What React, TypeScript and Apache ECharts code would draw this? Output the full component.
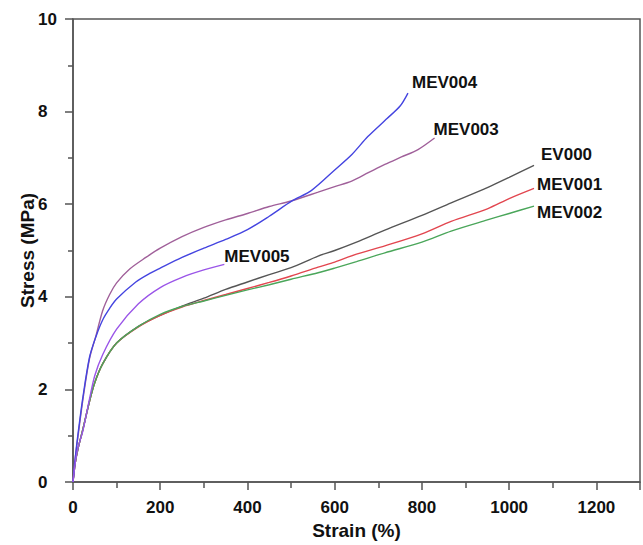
import React, { useEffect, useRef } from "react";
import * as echarts from "echarts";

const xTicks = [0, 200, 400, 600, 800, 1000, 1200];
const yTicks = [0, 2, 4, 6, 8, 10];

const ev000: [number, number][] = [
  [0, 0], [5, 0.4], [11, 0.7], [23, 1.15], [38, 1.75], [50, 2.15], [68, 2.55], [100, 3.0],
  [150, 3.36], [200, 3.6], [250, 3.8], [300, 3.97], [350, 4.16], [400, 4.32], [450, 4.48],
  [500, 4.63], [562, 4.88], [600, 5.0], [650, 5.18], [715, 5.44], [800, 5.76], [867, 6.03],
  [950, 6.36], [1000, 6.58], [1057, 6.84],
];
const mev001: [number, number][] = [
  [0, 0], [5, 0.4], [11, 0.7], [23, 1.15], [38, 1.75], [50, 2.15], [68, 2.55], [100, 3.0],
  [150, 3.35], [200, 3.6], [250, 3.78], [300, 3.92], [350, 4.05], [400, 4.18], [450, 4.31],
  [500, 4.45], [562, 4.64], [600, 4.75], [650, 4.92], [715, 5.1], [800, 5.36], [867, 5.63],
  [950, 5.9], [1000, 6.12], [1057, 6.34],
];
const mev002: [number, number][] = [
  [0, 0], [5, 0.4], [11, 0.7], [23, 1.15], [38, 1.75], [50, 2.15], [68, 2.55], [100, 3.0],
  [150, 3.36], [200, 3.62], [250, 3.79], [300, 3.91], [350, 4.03], [400, 4.15], [450, 4.26],
  [500, 4.38], [562, 4.52], [600, 4.62], [650, 4.76], [715, 4.95], [800, 5.18], [867, 5.42],
  [950, 5.66], [1000, 5.8], [1057, 5.96],
];
const mev003: [number, number][] = [
  [0, 0], [5, 0.5], [11, 0.95], [23, 1.8], [38, 2.67], [53, 3.17], [68, 3.7], [84, 4.05],
  [100, 4.3], [130, 4.6], [167, 4.85], [200, 5.05], [250, 5.3], [300, 5.5], [350, 5.66],
  [400, 5.8], [450, 5.95], [500, 6.07], [562, 6.26], [600, 6.38], [639, 6.5], [677, 6.68],
  [715, 6.86], [753, 7.02], [791, 7.18], [829, 7.43],
];
const mev004: [number, number][] = [
  [0, 0], [5, 0.5], [11, 1.0], [23, 1.85], [38, 2.7], [53, 3.15], [68, 3.5], [84, 3.75],
  [100, 3.95], [144, 4.32], [175, 4.5], [200, 4.62], [250, 4.85], [300, 5.05], [350, 5.24],
  [400, 5.45], [450, 5.74], [502, 6.07], [547, 6.3], [600, 6.74], [640, 7.08], [676, 7.46],
  [720, 7.85], [750, 8.12], [768, 8.4],
];
const mev005: [number, number][] = [
  [0, 0], [5, 0.4], [11, 0.72], [23, 1.12], [38, 1.8], [50, 2.3], [68, 2.75], [100, 3.3],
  [150, 3.85], [200, 4.2], [250, 4.42], [300, 4.58], [347, 4.7],
];

const seriesDefs = [
  { name: "EV000", data: ev000, color: "#555555", offset: [7, -11] },
  { name: "MEV001", data: mev001, color: "#e2464f", offset: [3, -4] },
  { name: "MEV002", data: mev002, color: "#4aa65a", offset: [3, 6] },
  { name: "MEV003", data: mev003, color: "#a0609a", offset: [-1, -8] },
  { name: "MEV004", data: mev004, color: "#4444e0", offset: [4, -11] },
  { name: "MEV005", data: mev005, color: "#9a55e8", offset: [0, -8] },
];

const FONT = "'Liberation Sans', Arial, sans-serif";

export default function App() {
  const ref = useRef<HTMLDivElement>(null);
  useEffect(() => {
    if (!ref.current) return;
    document.body.style.margin = "0";
    document.body.style.overflow = "hidden";
    const chart = echarts.init(ref.current, undefined, { renderer: "svg" });
    const axisColor = "#555555";
    chart.setOption({
      animation: false,
      backgroundColor: "#ffffff",
      textStyle: { fontFamily: FONT },
      grid: {
        left: 73,
        right: 1,
        top: 19,
        bottom: 62,
        show: true,
        borderColor: axisColor,
        borderWidth: 1.5,
        containLabel: false,
      },
      xAxis: {
        type: "value",
        min: 0,
        max: 1300,
        interval: 200,
        name: "Strain (%)",
        nameLocation: "middle",
        nameGap: 39,
        nameMoveOverlap: false,
        nameTextStyle: { fontSize: 19, fontWeight: "bold", color: "#111", fontFamily: FONT },
        axisLine: { show: true, lineStyle: { color: axisColor, width: 1.5 } },
        axisTick: { show: true, inside: false, length: 8, lineStyle: { color: axisColor, width: 1.5 } },
        minorTick: { show: true, splitNumber: 2, length: 6, lineStyle: { color: axisColor, width: 1.5 } },
        splitLine: { show: false },
        axisLabel: {
          margin: 17,
          fontSize: 17,
          fontWeight: "bold",
          color: "#111",
          fontFamily: FONT,
          formatter: (v: number) => (xTicks.includes(v) ? String(v) : ""),
        },
      },
      yAxis: {
        type: "value",
        min: 0,
        max: 10,
        interval: 2,
        name: "Stress (MPa)",
        nameLocation: "middle",
        nameGap: 36,
        nameMoveOverlap: false,
        nameTextStyle: { fontSize: 19, fontWeight: "bold", color: "#111", fontFamily: FONT },
        axisLine: { show: true, lineStyle: { color: axisColor, width: 1.5 } },
        axisTick: { show: true, inside: false, length: 8, lineStyle: { color: axisColor, width: 1.5 } },
        minorTick: { show: true, splitNumber: 2, length: 5, lineStyle: { color: axisColor, width: 1.5 } },
        splitLine: { show: false },
        axisLabel: {
          margin: 35,
          align: "left",
          fontSize: 17,
          fontWeight: "bold",
          color: "#111",
          fontFamily: FONT,
          formatter: (v: number) => (yTicks.includes(v) ? String(v) : ""),
        },
      },
      series: seriesDefs.map((s) => ({
        name: s.name,
        type: "line",
        data: s.data,
        showSymbol: false,
        smooth: 0.3,
        lineStyle: { color: s.color, width: 1.4 },
        itemStyle: { color: s.color },
        endLabel: {
          show: true,
          formatter: s.name,
          distance: 0,
          offset: s.offset,
          fontSize: 17,
          fontWeight: "bold",
          color: "#111",
          fontFamily: FONT,
        },
      })),
    });
    return () => chart.dispose();
  }, []);
  return (
    <div
      ref={ref}
      style={{ position: "fixed", left: 0, top: 0, width: 643, height: 545 }}
    />
  );
}
